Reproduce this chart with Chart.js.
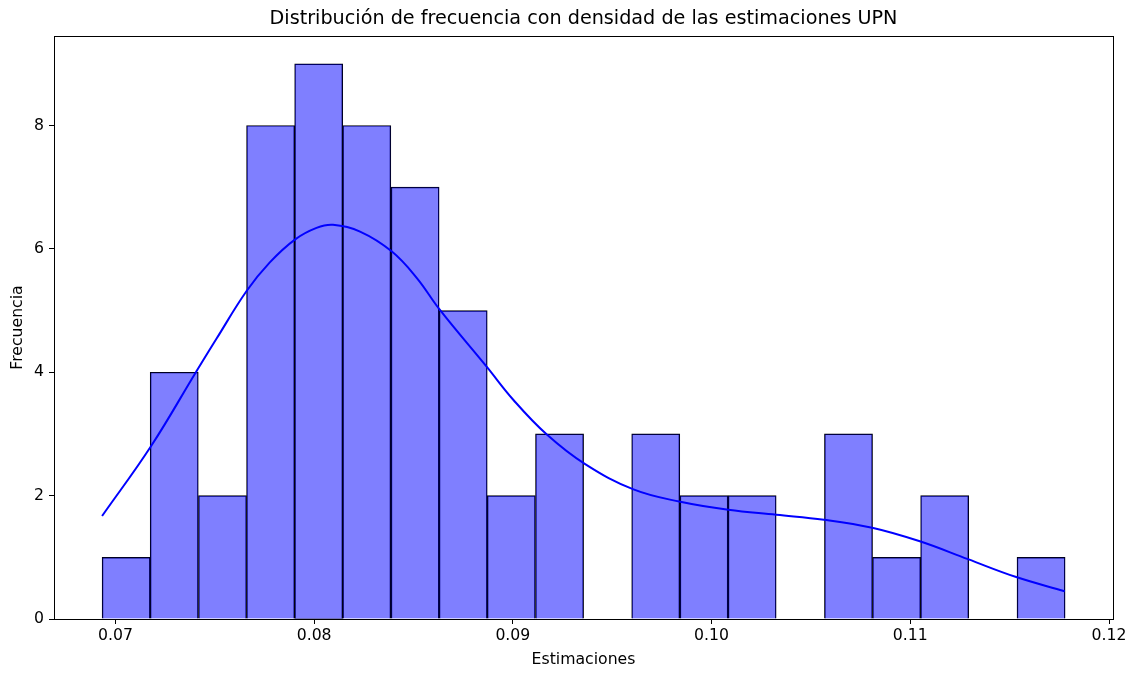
<!DOCTYPE html>
<html>
<head>
<meta charset="utf-8">
<script src="https://cdn.jsdelivr.net/npm/chart.js@4.4.0/dist/chart.umd.min.js"></script>
<style>
  body { margin: 0; background: #fff; }
  #wrap { width: 1135px; height: 673px; }
</style>
</head>
<body>
<div id="wrap"><canvas id="chart"></canvas></div>
<script>
// histogram bins (centers) and counts
var binCenters = [0.07054, 0.07296, 0.07539, 0.07781, 0.08023, 0.08265, 0.08508, 0.08750, 0.08992, 0.09235,
                  0.09477, 0.09719, 0.09962, 0.10204, 0.10446, 0.10689, 0.10931, 0.11173, 0.11415, 0.11658];
var counts = [1, 4, 2, 8, 9, 8, 7, 5, 2, 3, 0, 3, 2, 2, 0, 3, 1, 2, 0, 1];

// density curve
var kdeX = [0.06933, 0.07179, 0.07405, 0.07510, 0.07661, 0.07777, 0.07903, 0.08012, 0.08095, 0.08231,
            0.08390, 0.08516, 0.08633, 0.08868, 0.09003, 0.09171, 0.09364, 0.09607, 0.09843, 0.10084,
            0.10326, 0.10566, 0.10808, 0.11048, 0.1129, 0.11533, 0.11777];
var kdeY = [1.67, 2.80, 4.00, 4.55, 5.32, 5.78, 6.15, 6.34, 6.39, 6.28,
            5.96, 5.53, 5.01, 4.09, 3.55, 2.99, 2.51, 2.10, 1.90, 1.77,
            1.69, 1.61, 1.48, 1.26, 0.97, 0.68, 0.45];

var xTicks = [0.07, 0.08, 0.09, 0.10, 0.11, 0.12];
var yTicks = [0, 2, 4, 6, 8];

var font = 'DejaVu Sans';

var histData = binCenters.map(function(x, i) {
  return {x: x, y: counts[i]};
});
var kdeData = kdeX.map(function(x, i) {
  return {x: x, y: kdeY[i]};
});

var chart = new Chart('chart', {
  type: 'bar',
  data: {
    datasets: [
      {
        type: 'line',
        data: kdeData,
        borderColor: '#0000ff',
        borderWidth: 2,
        pointRadius: 0,
        fill: false,
        tension: 0.4,
        order: 0
      },
      {
        type: 'bar',
        data: histData,
        backgroundColor: 'rgba(0,0,255,0.5)',
        borderColor: '#000',
        borderWidth: 0.8,
        barPercentage: 1,
        categoryPercentage: 1,
        grouped: false,
        order: 1
      }
    ]
  },
  options: {
    responsive: true,
    maintainAspectRatio: false,
    animation: false,
    layout: { padding: { left: 0, right: 22, top: 0, bottom: 0 } },
    plugins: {
      legend: { display: false },
      tooltip: { enabled: false }
    },
    scales: {
      x: {
        type: 'linear',
        position: 'bottom',
        offset: false,
        min: 0.06691,
        max: 0.1202,
        afterBuildTicks: function(scale) {
          scale.ticks = xTicks.map(function(v) { return {value: v}; });
        },
        afterFit: function(scale) { scale.height = 54; },
        ticks: {
          color: '#000',
          font: { family: font, size: 15.7 },
          padding: 3,
          maxRotation: 0,
          callback: function(v) { return v.toFixed(2); }
        },
        grid: { display: true, offset: false, drawOnChartArea: false, drawTicks: true, tickLength: 5, color: '#000' },
        border: { display: true, color: '#000', width: 1 },
        title: {
          display: true,
          text: 'Estimaciones',
          color: '#000',
          font: { family: font, size: 15.7 },
          padding: { top: 0, bottom: 3.6 }
        }
      },
      x2: {
        type: 'linear',
        position: 'top',
        afterFit: function(scale) { scale.height = 36; },
        ticks: { display: false },
        grid: { display: false, drawTicks: false },
        border: { display: true, color: '#000', width: 1 },
        title: {
          display: true,
          text: 'Distribución de frecuencia con densidad de las estimaciones UPN',
          color: '#000',
          font: { family: font, size: 19.2 },
          padding: { top: 7.5, bottom: 5.5 }
        }
      },
      y: {
        type: 'linear',
        position: 'left',
        min: 0,
        max: 9.45,
        afterBuildTicks: function(scale) {
          scale.ticks = yTicks.map(function(v) { return {value: v}; });
        },
        afterFit: function(scale) { scale.width = 54; },
        ticks: {
          color: '#000',
          font: { family: font, size: 15.7 },
          padding: 5
        },
        grid: { display: true, drawOnChartArea: false, drawTicks: true, tickLength: 5, color: '#000' },
        border: { display: true, color: '#000', width: 1 },
        title: {
          display: true,
          text: 'Frecuencia',
          color: '#000',
          font: { family: font, size: 15.7 },
          padding: { top: 8.6, bottom: 0 }
        }
      },
      y2: {
        type: 'linear',
        position: 'right',
        afterFit: function(scale) { scale.width = 0; },
        ticks: { display: false },
        grid: { display: false, drawTicks: false },
        border: { display: true, color: '#000', width: 1 }
      }
    }
  }
});
</script>
</body>
</html>
